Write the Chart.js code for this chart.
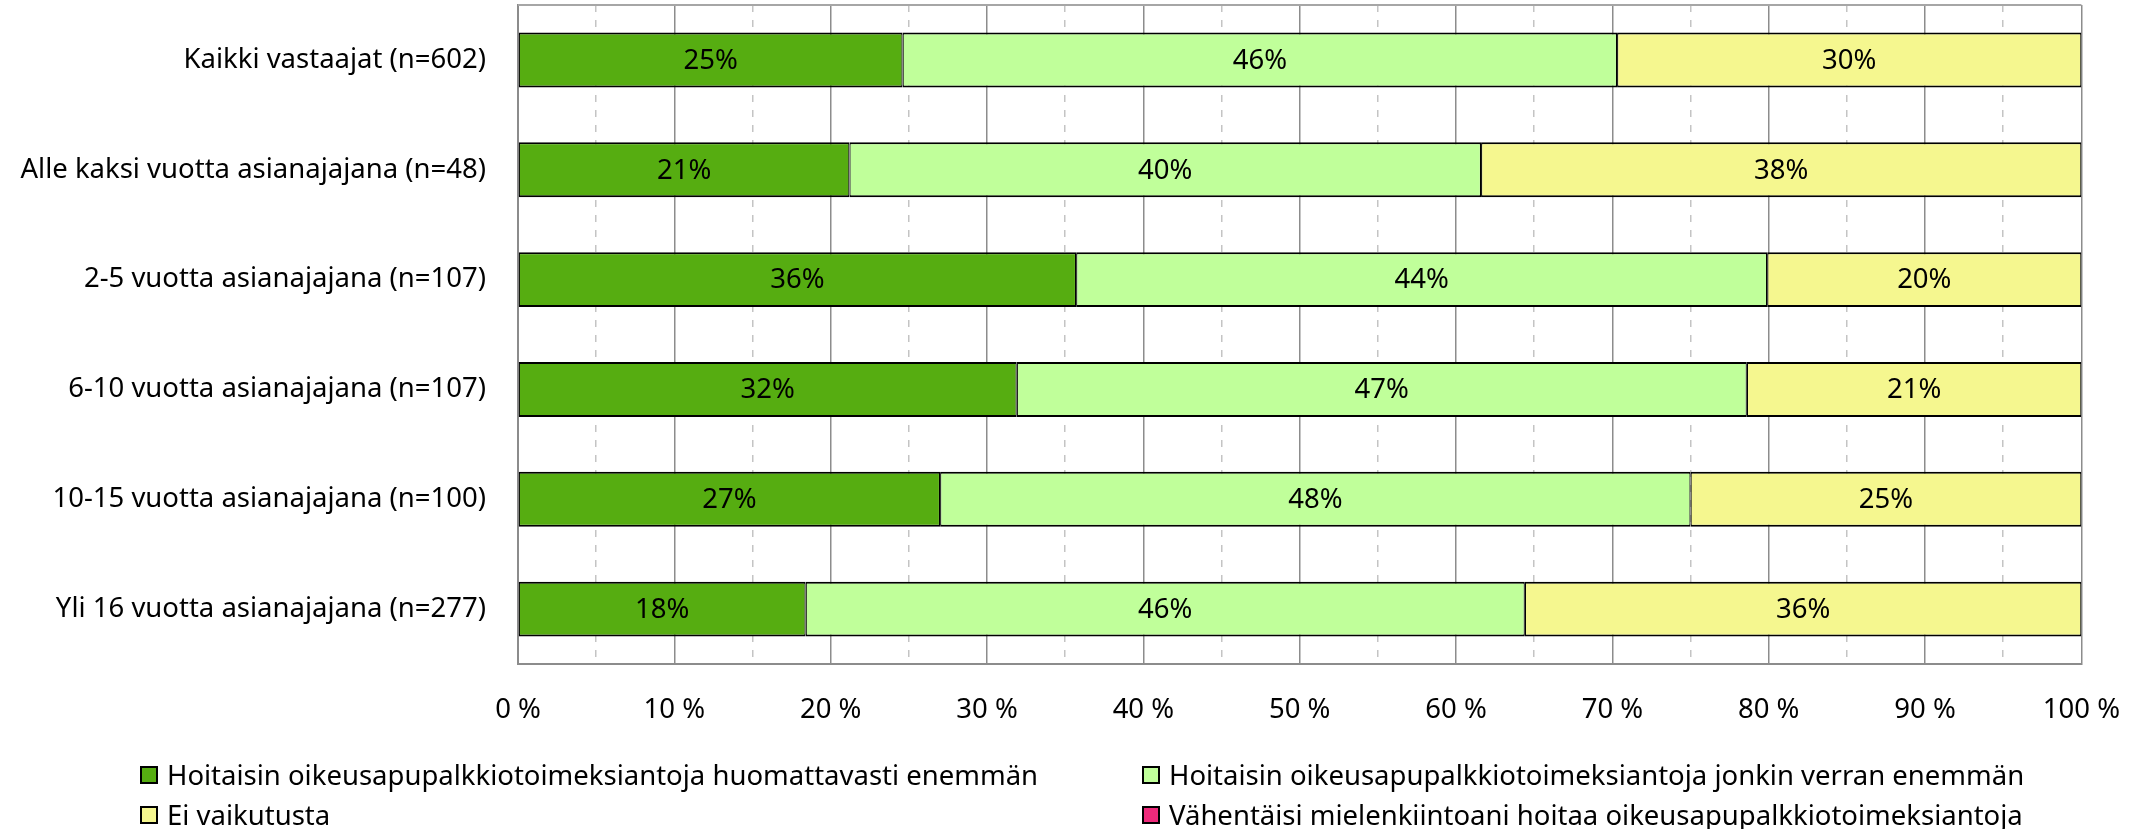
<!DOCTYPE html>
<html>
<head>
<meta charset="utf-8">
<script src="https://cdn.jsdelivr.net/npm/chart.js@4"></script>
<style>
  html, body { margin: 0; padding: 0; background: #fff; }
  #wrap { position: relative; width: 2150px; height: 829px; }
  canvas { position: absolute; left: 0; top: 0; }
  .lg { position: absolute; display: flex; align-items: center; font-family: "Noto Sans", sans-serif; font-size: 27.5px; color: #000; line-height: 34px; white-space: nowrap; }
  .lg .box { width: 18px; height: 18px; border: 2px solid #000; box-sizing: border-box; margin-right: 9px; }
</style>
</head>
<body>
<div id="wrap">
  <canvas id="c" width="2150" height="829"></canvas>
</div>
<script>
const categories = [
  "Kaikki vastaajat (n=602)",
  "Alle kaksi vuotta asianajajana (n=48)",
  "2-5 vuotta asianajajana (n=107)",
  "6-10 vuotta asianajajana (n=107)",
  "10-15 vuotta asianajajana (n=100)",
  "Yli 16 vuotta asianajajana (n=277)"
];
const seriesNames = [
  "Hoitaisin oikeusapupalkkiotoimeksiantoja huomattavasti enemmän",
  "Hoitaisin oikeusapupalkkiotoimeksiantoja jonkin verran enemmän",
  "Ei vaikutusta",
  "Vähentäisi mielenkiintoani hoitaa oikeusapupalkkiotoimeksiantoja"
];
const huomattavasti = [24.6, 21.2, 35.7, 31.9, 27.0, 18.4];
const jonkinVerran = [45.7, 40.4, 44.2, 46.7, 48.0, 46.0];
const eiVaikutusta = [29.7, 38.4, 20.1, 21.4, 25.0, 35.6];
const vahentaisi = [0, 0, 0, 0, 0, 0];
const xTicks = [0, 10, 20, 30, 40, 50, 60, 70, 80, 90, 100];

const colors = ["#56AD11", "#C0FF9A", "#F5F78F", "#EE2A7B"];
const FONT = "Noto Sans";
const FS = 27.5;

const labelPlugin = {
  id: 'segLabels',
  afterDatasetsDraw(chart) {
    const ctx = chart.ctx;
    ctx.save();
    ctx.font = FS + 'px "' + FONT + '"';
    ctx.fillStyle = '#000';
    ctx.textAlign = 'center';
    ctx.textBaseline = 'middle';
    chart.data.datasets.forEach((ds, di) => {
      const meta = chart.getDatasetMeta(di);
      meta.data.forEach((el, i) => {
        const v = ds.data[i];
        if (!v) return;
        const p = el.getCenterPoint();
        ctx.fillText(Math.round(v) + '%', p.x, p.y + 1);
      });
    });
    ctx.restore();
  }
};
const framePlugin = {
  id: 'frame',
  beforeDatasetsDraw(chart) {
    const a = chart.chartArea, ctx = chart.ctx;
    ctx.save();
    ctx.strokeStyle = '#a6a6a6';
    ctx.lineWidth = 2;
    ctx.beginPath();
    ctx.moveTo(a.left, a.top);
    ctx.lineTo(a.right, a.top);
    ctx.stroke();
    ctx.restore();
  }
};

const datasetSources = [huomattavasti, jonkinVerran, eiVaikutusta, vahentaisi];
const chart = new Chart(document.getElementById('c'), {
  type: 'bar',
  data: {
    labels: categories,
    datasets: datasetSources.map((d, i) => ({
      label: seriesNames[i],
      data: d,
      backgroundColor: colors[i],
      borderColor: '#000',
      borderWidth: i === 3 ? 0 : {top: 2, bottom: 2, left: 1.2, right: 1.2},
      borderSkipped: false,
      barPercentage: 0.5,
      categoryPercentage: 1.0
    }))
  },
  options: {
    indexAxis: 'y',
    responsive: false,
    animation: false,
    devicePixelRatio: 1,
    layout: { padding: { left: 0, right: 67, top: 5, bottom: 72 } },
    plugins: { legend: { display: false }, tooltip: { enabled: false } },
    scales: {
      x: {
        stacked: true,
        min: 0, max: 100,
        ticks: {
          stepSize: 5,
          autoSkip: false,
          maxRotation: 0,
          padding: 30,
          color: '#000',
          font: { family: FONT, size: FS },
          callback: (v) => (xTicks.includes(v) ? v + ' %' : '')
        },
        grid: {
          drawTicks: false,
          color: (c) => (c.tick && c.tick.value % 10 === 0 ? '#8c8c8c' : '#c4c4c4'),
          lineWidth: 1.5
        },
        border: {
          color: '#8c8c8c',
          width: 2,
          dash: (c) => (c.tick && c.tick.value % 10 !== 0 ? [7, 8] : [])
        }
      },
      y: {
        stacked: true,
        ticks: {
          padding: 32,
          color: '#000',
          font: { family: FONT, size: FS }
        },
        grid: { display: false, drawTicks: false },
        border: { color: '#8c8c8c', width: 2 },
        afterFit: (s) => { s.width = 518; s.paddingTop = 0; s.paddingBottom = 0; }
      }
    }
  },
  plugins: [labelPlugin, framePlugin]
});

// HTML legend built from the chart datasets
const legendPos = [
  { left: 140, top: 775 },
  { left: 1142, top: 775 },
  { left: 140, top: 815 },
  { left: 1142, top: 815 }
];
const wrap = document.getElementById('wrap');
chart.data.datasets.forEach((ds, i) => {
  const item = document.createElement('div');
  item.className = 'lg';
  item.style.left = legendPos[i].left + 'px';
  item.style.top = (legendPos[i].top - 17) + 'px';
  const box = document.createElement('span');
  box.className = 'box';
  box.style.background = ds.backgroundColor;
  const txt = document.createElement('span');
  txt.textContent = ds.label;
  item.appendChild(box);
  item.appendChild(txt);
  wrap.appendChild(item);
});
</script>
</body>
</html>
